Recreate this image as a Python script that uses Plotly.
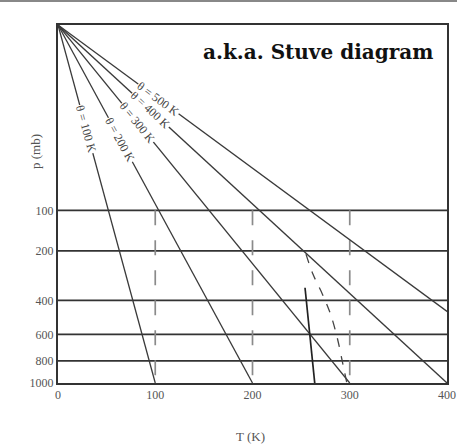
import math
import plotly.graph_objects as go

KAPPA = 0.286
P0 = 1000.0

# ---- data ----
T_ticks = [0, 100, 200, 300, 400]
p_ticks = [100, 200, 400, 600, 800, 1000]
theta_values = [100, 200, 300, 400, 500]
theta_label_T = [29, 64, 82, 95, 103]
isobars = [100, 200, 400, 600, 800]
isotherms = [100, 200, 300]
isotherm_top_p = 100
moist_p = [210, 280, 370, 470, 620, 830, 1000]
moist_T = [255, 262, 272, 280, 287, 293, 297]
steep_p = [339, 1000]
steep_T = [254, 264]
title_text = "a.k.a. Stuve diagram"


def yp(p):
    return (p / P0) ** KAPPA


W, H = 457, 446
ML, MR, MT, MB = 58, 10, 25, 63
PW, PH = W - ML - MR, H - MT - MB
T_MAX = 400

fig = go.Figure()

# isobars
for p in isobars:
    fig.add_trace(go.Scatter(x=[0, T_MAX], y=[yp(p), yp(p)], mode="lines",
                             line=dict(color="#333333", width=1.7),
                             hoverinfo="skip", showlegend=False))
# isotherms
for T in isotherms:
    fig.add_trace(go.Scatter(x=[T, T], y=[yp(isotherm_top_p), yp(P0)], mode="lines",
                             line=dict(color="#8a8a8a", width=1.7, dash="longdash"),
                             hoverinfo="skip", showlegend=False))
# dry adiabats
for th in theta_values:
    fig.add_trace(go.Scatter(x=[0, th], y=[yp(0), yp(P0)], mode="lines",
                             line=dict(color="#3a3a3a", width=1.3),
                             hoverinfo="skip", showlegend=False))
# moist curve (dashed)
fig.add_trace(go.Scatter(x=moist_T, y=[yp(p) for p in moist_p], mode="lines",
                         line=dict(color="#444444", width=1.3, dash="dash", shape="spline"),
                         hoverinfo="skip", showlegend=False))
# steep solid line
fig.add_trace(go.Scatter(x=steep_T, y=[yp(p) for p in steep_p], mode="lines",
                         line=dict(color="#222222", width=1.7),
                         hoverinfo="skip", showlegend=False))

annotations = []
for th, tl in zip(theta_values, theta_label_T):
    frac = tl / th
    p_lab = P0 * frac ** (1 / KAPPA)
    ang = math.degrees(math.atan2(PH, PW * th / T_MAX))
    annotations.append(dict(x=tl, y=yp(p_lab), xref="x", yref="y",
                            text=f"θ = {th} K", showarrow=False, textangle=ang,
                            xanchor="center", yanchor="middle",
                            font=dict(family="Liberation Serif", size=12, color="#444"),
                            bgcolor="white", borderpad=0))

annotations.append(dict(x=(318 - ML) / PW, y=1 - (52 - MT) / PH, xref="paper", yref="paper",
                        xanchor="center", yanchor="middle",
                        text="<b>" + title_text + "</b>", showarrow=False,
                        font=dict(family="DejaVu Serif", size=20, color="#111111")))
annotations.append(dict(x=(35 - ML) / PW, y=1 - (152 - MT) / PH, xref="paper", yref="paper",
                        xanchor="center", yanchor="middle",
                        text="p (mb)", showarrow=False, textangle=-90,
                        font=dict(family="Liberation Serif", size=13, color="#555")))
annotations.append(dict(x=(250 - ML) / PW, y=1 - (436 - MT) / PH, xref="paper", yref="paper",
                        xanchor="center", yanchor="middle",
                        text="T (K)", showarrow=False,
                        font=dict(family="Liberation Serif", size=13, color="#555")))

fig.update_layout(
    width=W, height=H,
    margin=dict(l=ML, r=MR, t=MT, b=MB, autoexpand=False),
    paper_bgcolor="white", plot_bgcolor="white",
    annotations=annotations,
    shapes=[dict(type="line", xref="paper", x0=-0.2, x1=1.05, yref="paper",
                 ysizemode="pixel", yanchor=1, y0=24, y1=24,
                 line=dict(color="#888", width=2))],
)
fig.update_xaxes(range=[0, T_MAX], tickvals=T_ticks, ticktext=[str(t) for t in T_ticks],
                 showgrid=False, zeroline=False, showline=True, mirror=True,
                 linecolor="#333", linewidth=2, ticks="", automargin=False,
                 tickfont=dict(family="Liberation Serif", size=12, color="#555"))
fig.update_yaxes(range=[1, 0], tickvals=[yp(p) for p in p_ticks], ticktext=[str(p) for p in p_ticks],
                 showgrid=False, zeroline=False, showline=True, mirror=True,
                 linecolor="#333", linewidth=2, ticks="", automargin=False,
                 tickfont=dict(family="Liberation Serif", size=12, color="#555"))

fig.write_html("out.html")
